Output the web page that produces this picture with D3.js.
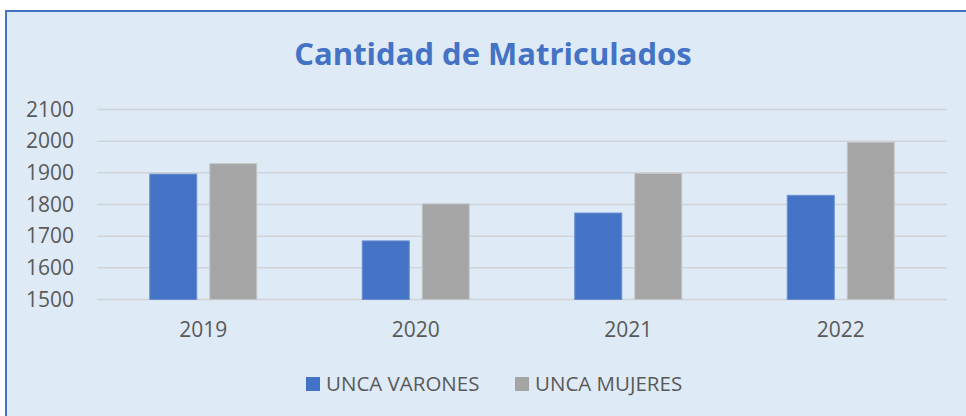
<html>
<head>
  <script src="https://d3js.org/d3.v7.min.js"></script>
  <style>
    body { margin: 0; background: white; }
    text { font-family: "Open Sans", sans-serif; }
  </style>
</head>
<body>
  <svg id="chart" width="966" height="416"></svg>
  <script>
    const years = ["2019", "2020", "2021", "2022"];
    const seriesNames = ["UNCA VARONES", "UNCA MUJERES"];
    const varones = [1896, 1685, 1773, 1829];
    const mujeres = [1929, 1802, 1898, 1997];
    const yTicks = [1500, 1600, 1700, 1800, 1900, 2000, 2100];
    const colors = ["#4472c4", "#a5a5a5"];

    const svg = d3.select("#chart");
    const width = +svg.attr("width");
    const height = +svg.attr("height");

    // background panel with blue border
    svg.append("rect")
      .attr("x", 6).attr("y", 11)
      .attr("width", width + 10).attr("height", height + 10)
      .style("fill", "#deeaf6")
      .style("stroke", "#4472c4")
      .style("stroke-width", 2);

    svg.append("text")
      .attr("x", 493).attr("y", 65)
      .attr("text-anchor", "middle")
      .style("font-size", "31px")
      .style("font-weight", "bold")
      .style("fill", "#4472c4")
      .text("Cantidad de Matriculados");

    const x = d3.scaleBand().domain(years).range([97, 947]);
    const y = d3.scaleLinear().domain([1500, 2100]).range([299.5, 109.5]);

    // gridlines
    svg.append("g").selectAll("line").data(yTicks).join("line")
      .attr("x1", 97).attr("x2", 947)
      .attr("y1", d => y(d)).attr("y2", d => y(d))
      .style("stroke", "#d0d3d8")
      .style("stroke-width", 1.5);

    const yAxis = d3.axisLeft(y).tickValues(yTicks).tickSize(0).tickPadding(0).tickFormat(d3.format("d"));
    const yg = svg.append("g").attr("transform", "translate(74,0)").call(yAxis);
    yg.select(".domain").remove();
    yg.selectAll("text")
      .style("font-size", "21px")
      .style("fill", "#595959")
      .style("font-family", "'Open Sans', sans-serif");

    const xAxis = d3.axisBottom(x).tickSize(0).tickPadding(0);
    const xg = svg.append("g").attr("transform", "translate(0,322)").call(xAxis);
    xg.select(".domain").remove();
    xg.selectAll("text")
      .style("font-size", "21px")
      .style("fill", "#595959")
      .style("font-family", "'Open Sans', sans-serif");

    const barW = 47;
    const gap = 13;
    const series = [varones, mujeres];
    series.forEach((vals, s) => {
      svg.append("g").selectAll("rect").data(vals).join("rect")
        .attr("x", (d, i) => x(years[i]) + x.bandwidth() / 2 - barW - gap / 2 + s * (barW + gap))
        .attr("y", d => y(d))
        .attr("width", barW)
        .attr("height", d => y(1500) - y(d))
        .style("fill", colors[s])
        .style("stroke", s === 0 ? "#6a8fd3" : "#c4c6c9")
        .style("stroke-width", 1);
    });

    // legend
    const legendX = [306, 515];
    seriesNames.forEach((name, s) => {
      svg.append("rect")
        .attr("x", legendX[s]).attr("y", 377)
        .attr("width", 14).attr("height", 14)
        .style("fill", colors[s]);
      svg.append("text")
        .attr("x", legendX[s] + 20).attr("y", 391)
        .style("font-size", "20.5px")
        .style("fill", "#595959")
        .text(name);
    });
  </script>
</body>
</html>
